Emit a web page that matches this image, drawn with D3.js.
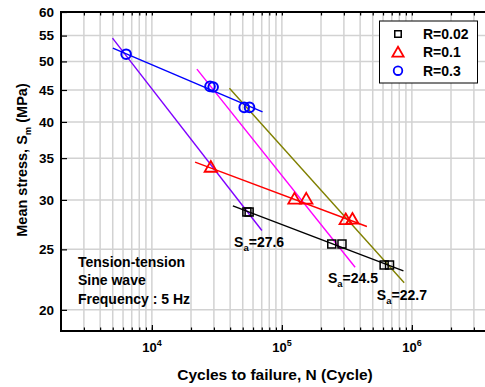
<!DOCTYPE html>
<html><head><meta charset="utf-8">
<script src="https://cdn.jsdelivr.net/npm/d3@7"></script>
<style>body{margin:0;background:#fff;}svg{display:block;font-family:Arial,"Liberation Sans",sans-serif;font-weight:bold;}</style>
</head><body>
<script>
// ---- data ----
const r002N = [53800, 56000, 242000, 290000, 612000, 673000];
const r002S = [28.7, 28.7, 25.5, 25.5, 23.6, 23.6];
const r01N = [28400, 125000, 154000, 310000, 349000];
const r01S = [33.85, 30.1, 30.1, 27.9, 27.95];
const r03N = [6340, 28000, 29600, 51300, 56400];
const r03S = [51.35, 45.6, 45.5, 42.2, 42.2];
// fitted lines: [N1, S1, N2, S2]
const fitR002 = [42000, 29.35, 861000, 23.1];
const fitR01 = [21500, 34.5, 451000, 27.2];
const fitR03 = [5010, 52.5, 71000, 41.5];
const fitSa276 = [4980, 54.5, 70200, 26.8];
const fitSa245 = [22200, 48.6, 366000, 23.4];
const fitSa227 = [39500, 45.3, 873000, 22.1];
const saLabels = ["27.6", "24.5", "22.7"];
const saLabelN = [42900, 226000, 538000];
const saLabelS = [25.26, 22.1, 20.75];
const yTicks = [20, 25, 30, 35, 40, 45, 50, 55, 60];
const xMajor = [1e4, 1e5, 1e6];
const xExp = [4, 5, 6];
const legendLabels = ["R=0.02", "R=0.1", "R=0.3"];
const noteLines = ["Tension-tension", "Sine wave", "Frequency : 5 Hz"];

const W = 485, H = 387;
const svg = d3.select("body").append("svg").attr("width", W).attr("height", H);

const x = d3.scaleLog().domain([2000, 5e6]).range([61, 61 + 130 * Math.log10(2500)]);
const y = d3.scaleLog().domain([18.5, 60]).range([331, 12]);

// minor x values
const xMinor = [];
for (let e = 3; e <= 6; e++) for (let m = 1; m <= 9; m++) { const v = m * Math.pow(10, e); if (v > 2000 && v < 5e6) xMinor.push(v); }

// grid
const grid = svg.append("g").attr("stroke", "#d2d2d2").attr("stroke-width", 1.5);
grid.selectAll("line.v").data(xMinor).join("line")
  .attr("x1", d => x(d)).attr("x2", d => x(d)).attr("y1", 12).attr("y2", 331);
grid.selectAll("line.h").data(yTicks).join("line")
  .attr("x1", 61).attr("x2", W).attr("y1", d => y(d)).attr("y2", d => y(d));

// fit lines
function fitLine(f, color) {
  svg.append("line").attr("x1", x(f[0])).attr("y1", y(f[1])).attr("x2", x(f[2])).attr("y2", y(f[3]))
    .attr("stroke", color).attr("stroke-width", 1.4);
}
fitLine(fitSa276, "#8000ff");
fitLine(fitSa245, "#ff00ff");
fitLine(fitSa227, "#808000");
fitLine(fitR03, "#0000ff");
fitLine(fitR01, "#ff0000");
fitLine(fitR002, "#000000");

// markers
const sq = d3.symbol().type(d3.symbolSquare).size(64);
const tri = d3.symbol().type(d3.symbolTriangle).size(66);
svg.append("g").selectAll("path").data(d3.zip(r002N, r002S)).join("path")
  .attr("d", sq).attr("transform", d => `translate(${x(d[0])},${y(d[1])})`)
  .attr("fill", "none").attr("stroke", "#000").attr("stroke-width", 1.5);
svg.append("g").selectAll("path").data(d3.zip(r01N, r01S)).join("path")
  .attr("d", tri).attr("transform", d => `translate(${x(d[0])},${y(d[1]) + 1})`)
  .attr("fill", "none").attr("stroke", "#ff0000").attr("stroke-width", 1.8);
svg.append("g").selectAll("circle").data(d3.zip(r03N, r03S)).join("circle")
  .attr("cx", d => x(d[0])).attr("cy", d => y(d[1])).attr("r", 4.8)
  .attr("fill", "none").attr("stroke", "#0000ff").attr("stroke-width", 2);

// axes
const yAxis = svg.append("g").attr("transform", "translate(61,0)")
  .call(d3.axisLeft(y).tickValues(yTicks).tickFormat(d3.format("d")).tickSize(-6).tickPadding(7));
yAxis.select(".domain").remove();
yAxis.selectAll("line").attr("stroke", "#000").attr("stroke-width", 1.2);
yAxis.selectAll("text").attr("font-size", 13.5).attr("font-weight", "bold").attr("fill", "#000")
  .attr("font-family", "Arial, 'Liberation Sans', sans-serif");

const xAxisMinor = svg.append("g").attr("transform", "translate(0,331)")
  .call(d3.axisBottom(x).tickValues(xMinor).tickFormat("").tickSize(-3.5));
xAxisMinor.select(".domain").remove();
xAxisMinor.selectAll("line").attr("stroke", "#000").attr("stroke-width", 1.2);
const xAxisMajor = svg.append("g").attr("transform", "translate(0,331)")
  .call(d3.axisBottom(x).tickValues(xMajor).tickFormat("").tickSize(-6));
xAxisMajor.select(".domain").remove();
xAxisMajor.selectAll("line").attr("stroke", "#000").attr("stroke-width", 1.2);
const topMinor = svg.append("g").attr("transform", "translate(0,12)")
  .call(d3.axisTop(x).tickValues(xMinor).tickFormat("").tickSize(-3.5));
topMinor.select(".domain").remove();
topMinor.selectAll("line").attr("stroke", "#000").attr("stroke-width", 1.2);

// x major labels
const xl = svg.append("g").selectAll("text").data(xMajor).join("text")
  .attr("x", d => x(d) - 9.5).attr("y", 352).attr("font-size", 13).attr("text-anchor", "start");
xl.append("tspan").text("10");
xl.append("tspan").attr("dy", -6).attr("font-size", 9).text((d, i) => xExp[i]);

// frame lines
svg.append("line").attr("x1", 61).attr("x2", W).attr("y1", 12).attr("y2", 12).attr("stroke", "#000").attr("stroke-width", 2);
svg.append("line").attr("x1", 61).attr("x2", W).attr("y1", 331).attr("y2", 331).attr("stroke", "#000").attr("stroke-width", 2);
svg.append("line").attr("x1", 61).attr("x2", 61).attr("y1", 11).attr("y2", 332).attr("stroke", "#000").attr("stroke-width", 2);

// axis titles
svg.append("text").attr("x", 275).attr("y", 380).attr("text-anchor", "middle").attr("font-size", 15.5)
  .text("Cycles to failure, N (Cycle)");
const yt = svg.append("text").attr("transform", "translate(27,160) rotate(-90)").attr("text-anchor", "middle").attr("font-size", 14.5);
yt.append("tspan").text("Mean stress, S");
yt.append("tspan").attr("font-size", 9.5).attr("dy", 4).text("m");
yt.append("tspan").attr("dy", -4).text(" (MPa)");

// Sa labels
saLabels.forEach((s, i) => {
  const t = svg.append("text").attr("x", x(saLabelN[i])).attr("y", y(saLabelS[i])).attr("font-size", 14);
  t.append("tspan").text("S");
  t.append("tspan").attr("font-size", 9.5).attr("dy", 4).text("a");
  t.append("tspan").attr("dy", -4).text("=" + s);
});

// note
svg.append("g").selectAll("text").data(noteLines).join("text")
  .attr("x", 78).attr("y", (d, i) => 267 + i * 18.3).attr("font-size", 14).text(d => d);

// legend
const lg = svg.append("g");
lg.append("rect").attr("x", 379.5).attr("y", 21).attr("width", 98).attr("height", 62)
  .attr("fill", "#fff").attr("stroke", "#000").attr("stroke-width", 1);
const ly = [34, 52.3, 70.7];
lg.append("path").attr("d", d3.symbol().type(d3.symbolSquare).size(42)).attr("transform", `translate(398,${ly[0]})`)
  .attr("fill", "none").attr("stroke", "#000").attr("stroke-width", 1.5);
lg.append("path").attr("d", d3.symbol().type(d3.symbolTriangle).size(55)).attr("transform", `translate(398,${ly[1] + 1})`)
  .attr("fill", "none").attr("stroke", "#ff0000").attr("stroke-width", 1.8);
lg.append("circle").attr("cx", 398).attr("cy", ly[2]).attr("r", 4.3)
  .attr("fill", "none").attr("stroke", "#0000ff").attr("stroke-width", 1.8);
lg.selectAll("text").data(legendLabels).join("text")
  .attr("x", 423).attr("y", (d, i) => ly[i] + 5).attr("font-size", 14).text(d => d);
</script>
</body></html>
